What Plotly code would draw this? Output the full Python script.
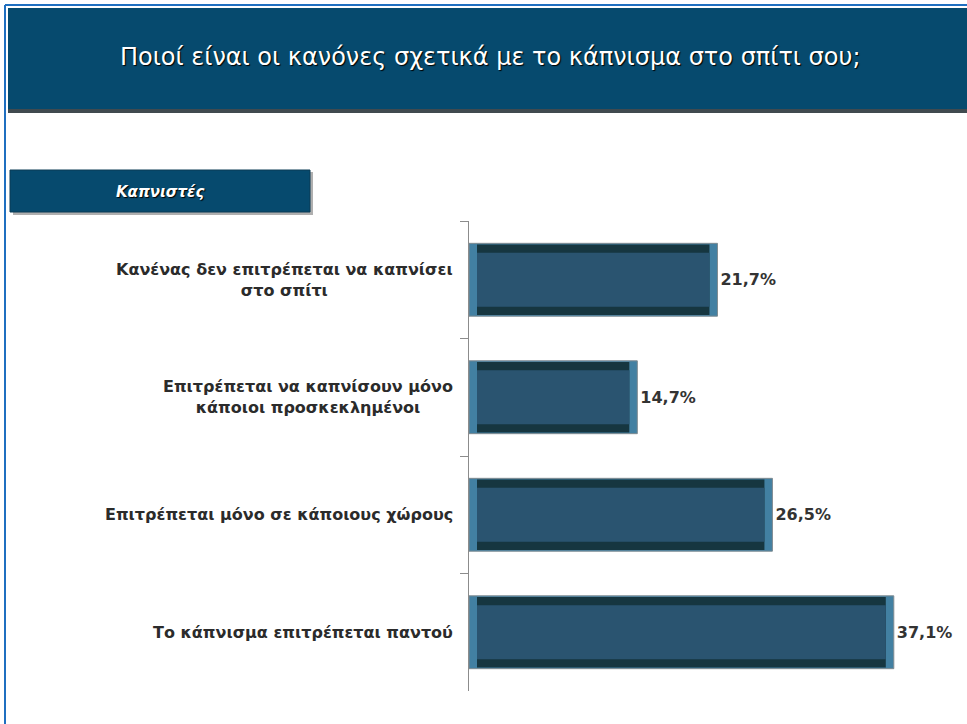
import plotly.graph_objects as go

title_text = "Ποιοί είναι οι κανόνες σχετικά με το κάπνισμα στο σπίτι σου;"
group_label = "Καπνιστές"
categories = [
    "Κανένας δεν επιτρέπεται να καπνίσει<br>στο σπίτι",
    "Επιτρέπεται να καπνίσουν μόνο<br>κάποιοι προσκεκλημένοι",
    "Επιτρέπεται μόνο σε κάποιους χώρους",
    "Το κάπνισμα επιτρέπεται παντού",
]
values = [21.7, 14.7, 26.5, 37.1]
value_labels = ["21,7%", "14,7%", "26,5%", "37,1%"]

W, H = 967, 724
L, R, T, B = 469, 927, 221, 691
XMAX = 40.0

def px(x):
    return (x - L) / (R - L)

def py(y):
    return (B - y) / (B - T)

unit = XMAX / (R - L)
inset = 8 * unit

fig = go.Figure()
# outer bar (light side bevel)
fig.add_trace(go.Bar(
    y=categories, x=values, orientation="h", width=0.62,
    marker=dict(color="#4280a2", line=dict(color="#7f8a90", width=1)),
    text=[f"<b>{t}</b>" for t in value_labels], textposition="outside",
    textfont=dict(family="DejaVu Sans", size=16, color="#333333"),
    cliponaxis=False, hoverinfo="skip",
))
# dark top/bottom bevel
fig.add_trace(go.Bar(
    y=categories, x=[v - 2 * inset for v in values], base=inset,
    orientation="h", width=0.60,
    marker=dict(color="#163640", line=dict(width=0)), hoverinfo="skip",
))
# main face
fig.add_trace(go.Bar(
    y=categories, x=[v - 2 * inset for v in values], base=inset,
    orientation="h", width=0.46,
    marker=dict(color="#2a5470", line=dict(width=0)), hoverinfo="skip",
))

annotations = []
for c in categories:
    annotations.append(dict(
        x=px(455), xref="paper", y=c, yref="y", text=f"<b>{c}</b>",
        showarrow=False, xanchor="right", align="center",
        font=dict(family="DejaVu Sans", size=16, color="#2b2b2b"),
    ))
annotations.append(dict(
    x=px(490), xref="paper", y=py(57), yref="paper", text=title_text,
    showarrow=False, xanchor="center", yanchor="middle",
    font=dict(family="DejaVu Sans", size=24, color="white",
              shadow="1px 1px 1px #000000"),
))
annotations.append(dict(
    x=px(160), xref="paper", y=py(192), yref="paper", text=f"<b><i>{group_label}</i></b>",
    showarrow=False, xanchor="center", yanchor="middle",
    font=dict(family="DejaVu Sans", size=15, color="white",
              shadow="1px 1px 1px #000000"),
))

shapes = [
    # borders
    dict(type="line", xref="paper", yref="paper", x0=px(5), x1=px(5), y0=py(5), y1=py(724),
         line=dict(color="#1f6fc0", width=2)),
    dict(type="line", xref="paper", yref="paper", x0=px(5), x1=px(967), y0=py(5), y1=py(5),
         line=dict(color="#1f6fc0", width=2)),
    # banner shadow
    dict(type="rect", xref="paper", yref="paper", x0=px(8), x1=px(967), y0=py(9), y1=py(113),
         fillcolor="#1e2a30", line=dict(width=0), opacity=0.85, layer="below"),
    dict(type="rect", xref="paper", yref="paper", x0=px(8), x1=px(967), y0=py(8), y1=py(109),
         fillcolor="#064a6e", line=dict(width=0), layer="below"),
    # group box shadow
    dict(type="rect", xref="paper", yref="paper", x0=px(13), x1=px(313), y0=py(172), y1=py(215),
         fillcolor="#7a7a7a", line=dict(width=0), opacity=0.6, layer="below"),
    dict(type="rect", xref="paper", yref="paper", x0=px(10), x1=px(310), y0=py(170), y1=py(212),
         fillcolor="#064a6e", line=dict(color="#0a3a55", width=1), layer="below"),
]

fig.update_layout(
    width=W, height=H, paper_bgcolor="white", plot_bgcolor="white",
    margin=dict(l=L, r=W - R, t=T, b=H - B),
    barmode="overlay", showlegend=False,
    xaxis=dict(range=[0, XMAX], visible=False),
    yaxis=dict(categoryorder="array", categoryarray=categories, autorange="reversed",
               showticklabels=False, showline=True, linecolor="#8c8c8c", linewidth=1,
               ticks="outside", ticklen=8, tickcolor="#8c8c8c", tickson="boundaries",
               showgrid=False, zeroline=False),
    annotations=annotations, shapes=shapes,
)

fig.write_html("out.html", config={"displayModeBar": False},
               post_script="document.body.style.margin='0px';")
